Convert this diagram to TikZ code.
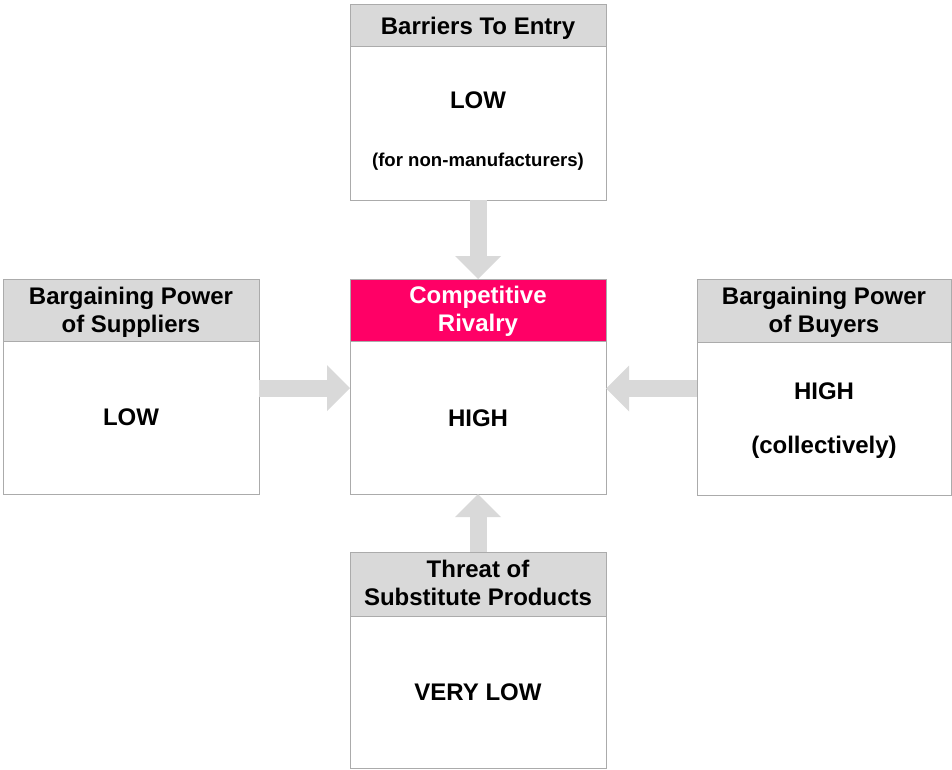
\documentclass[tikz,border=0pt]{standalone}
\usepackage{fontspec}
\setmainfont{Liberation Sans}
\usetikzlibrary{arrows.meta}

\definecolor{rulegray}{HTML}{ABABAB}
\definecolor{headgray}{HTML}{D9D9D9}
\definecolor{rivalpink}{HTML}{FF0066}
\definecolor{flowgray}{HTML}{D9D9D9}

\begin{document}
\begin{tikzpicture}[x=1pt,y=-1pt,
  panel/.style={draw=rulegray, line width=1pt, inner sep=0pt, outer sep=0pt,
    anchor=north west, minimum width=#1},
  header/.style={panel=#1, fill=headgray},
  hottop/.style={panel=#1, fill=rivalpink},
  % anchor=base of a two-line text sits on its last line
  txt/.style={inner sep=0pt, anchor=base, align=center,
    font=\fontsize{24}{28.3}\selectfont\bfseries},
  small/.style={txt, font=\fontsize{18.6}{22}\selectfont\bfseries},
  flow/.style={draw=flowgray, line width=17pt,
    -{Triangle[width=46pt, length=23pt, line width=0pt]}}
]
\useasboundingbox (0,0) rectangle (952,769);

% header strips
\node[header=256, minimum height=42] (topH) at (350,4) {};
\node[header=256, minimum height=62] (leftH) at (3,279) {};
\node[hottop=256, minimum height=62] (centerH) at (350,279) {};
\node[header=254, minimum height=63] (rightH) at (697,279) {};
\node[header=256, minimum height=64] (bottomH) at (350,552) {};

% outer frames
\node[panel=256, minimum height=196] (top) at (350,4) {};
\node[panel=256, minimum height=215] (left) at (3,279) {};
\node[panel=256, minimum height=215] (center) at (350,279) {};
\node[panel=254, minimum height=216] (right) at (697,279) {};
\node[panel=256, minimum height=216] (bottom) at (350,552) {};

% forces acting on the rivalry box
\draw[flow] (top.south) -- (center.north);
\draw[flow] (bottom.north) -- (center.south);
\draw[flow] ([yshift=-1.5pt]left.east) -- ([yshift=-1.5pt]left.east -| center.west);
\draw[flow] ([yshift=-1.5pt]right.west) -- ([yshift=-1.5pt]right.west -| center.east);

% texts
\node[txt] (topT) at (478,34.3) {Barriers To Entry};
\node[txt] (topV) at (478,108) {LOW};
\node[small] (topN) at (478,166) {(for non-manufacturers)};

\node[txt] (leftT) at (131,332.3) {Bargaining Power\\of Suppliers};
\node[txt] (leftV) at (131,425.7) {LOW};

\node[txt, text=white] (centerT) at (478,331.3) {Competitive\\Rivalry};
\node[txt] (centerV) at (478,426) {HIGH};

\node[txt] (rightT) at (824,332.3) {Bargaining Power\\of Buyers};
\node[txt] (rightV) at (824,399.5) {HIGH};
\node[txt] (rightN) at (824,453) {(collectively)};

\node[txt] (bottomT) at (478,605.6) {Threat of\\Substitute Products};
\node[txt] (bottomV) at (478,700.7) {VERY LOW};
\end{tikzpicture}
\end{document}
